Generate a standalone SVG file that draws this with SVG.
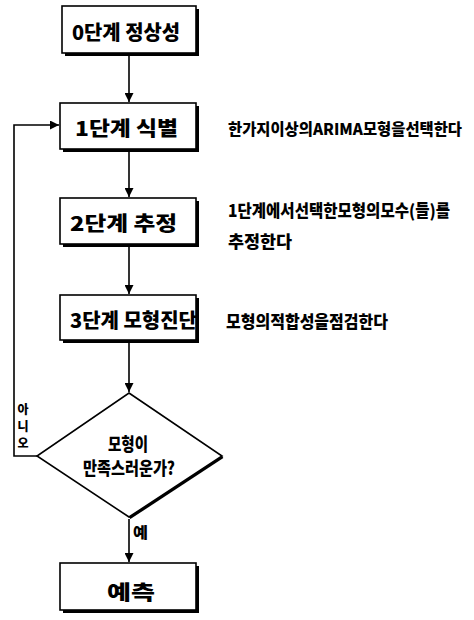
<svg xmlns="http://www.w3.org/2000/svg" width="474" height="620" viewBox="0 0 474 620">
<style>
.box{fill:#fff;stroke:#000;stroke-width:1.6}
.sh{fill:#000}
.t{font-family:"Noto Sans CJK KR","Noto Sans",sans-serif;font-weight:900;fill:#000}
.lbl{font-size:20px;text-anchor:start}
.note{font-size:17px}
.ln{fill:none;stroke:#000;stroke-width:1.6}
</style>
<defs>
<marker id="ah" viewBox="0 0 10 10" refX="10" refY="5" markerWidth="9" markerHeight="9" markerUnits="userSpaceOnUse" orient="auto">
<path d="M0,0 L10,5 L0,10 Z" fill="#000"/>
</marker>
</defs>
<rect width="474" height="620" fill="#fff"/>
<g id="connectors">
<line class="ln" x1="129" y1="56" x2="129" y2="102" marker-end="url(#ah)"/>
<line class="ln" x1="129" y1="152" x2="129" y2="197" marker-end="url(#ah)"/>
<line class="ln" x1="129" y1="247" x2="129" y2="294" marker-end="url(#ah)"/>
<line class="ln" x1="129" y1="343" x2="129" y2="392" marker-end="url(#ah)"/>
<line class="ln" x1="129" y1="519" x2="129" y2="562" marker-end="url(#ah)"/>
<polyline class="ln" points="37,456 14,456 14,125 59,125" marker-end="url(#ah)"/>
<text class="t" x="23" y="414" font-size="12" text-anchor="middle" font-weight="400">아</text>
<text class="t" x="23" y="431" font-size="12" text-anchor="middle" font-weight="400">니</text>
<text class="t" x="23" y="448" font-size="12" text-anchor="middle" font-weight="400">오</text>
<text class="t" x="133" y="538" font-size="15" textLength="15" lengthAdjust="spacingAndGlyphs">예</text>
</g>
<g id="n0">
<rect class="sh" x="65" y="9" width="134" height="47"/>
<rect class="box" x="62" y="6" width="134" height="47"/>
<text class="t lbl" x="72" y="40" textLength="108" lengthAdjust="spacingAndGlyphs">0단계 정상성</text>
</g>
<g id="n1">
<rect class="sh" x="63" y="106" width="136" height="46"/>
<rect class="box" x="60" y="103" width="136" height="46"/>
<text class="t lbl" x="75" y="136" textLength="103" lengthAdjust="spacingAndGlyphs">1단계 식별</text>
<text class="t" font-size="15.5" x="228" y="135" textLength="234" lengthAdjust="spacingAndGlyphs">한가지이상의ARIMA모형을선택한다</text>
</g>
<g id="n2">
<rect class="sh" x="63" y="201" width="136" height="46"/>
<rect class="box" x="60" y="198" width="136" height="46"/>
<text class="t lbl" x="70" y="231" textLength="107" lengthAdjust="spacingAndGlyphs">2단계 추정</text>
<text class="t note" x="228" y="217" textLength="222" lengthAdjust="spacingAndGlyphs">1단계에서선택한모형의모수(들)를</text>
<text class="t note" x="228" y="248" textLength="64" lengthAdjust="spacingAndGlyphs">추정한다</text>
</g>
<g id="n3">
<rect class="sh" x="63" y="298" width="136" height="45"/>
<rect class="box" x="60" y="295" width="136" height="45"/>
<text class="t lbl" x="70" y="328" textLength="127" lengthAdjust="spacingAndGlyphs">3단계 모형진단</text>
<text class="t note" x="226" y="328" textLength="162" lengthAdjust="spacingAndGlyphs">모형의적합성을점검한다</text>
</g>
<g id="n4">
<polyline points="222,456 129,517" fill="none" stroke="#000" stroke-width="5"/>
<polygon points="129,393 222,456 129,517 37,456" fill="#fff" stroke="#000" stroke-width="1.6"/>
<text class="t" x="108" y="451" font-size="18" textLength="40" lengthAdjust="spacingAndGlyphs">모형이</text>
<text class="t" x="83" y="475" font-size="18" textLength="92" lengthAdjust="spacingAndGlyphs">만족스러운가?</text>
</g>
<g id="n5">
<rect class="sh" x="63" y="566" width="136" height="47"/>
<rect class="box" x="60" y="563" width="136" height="47"/>
<text class="t lbl" x="107" y="600" textLength="48" lengthAdjust="spacingAndGlyphs">예측</text>
</g>
</svg>
